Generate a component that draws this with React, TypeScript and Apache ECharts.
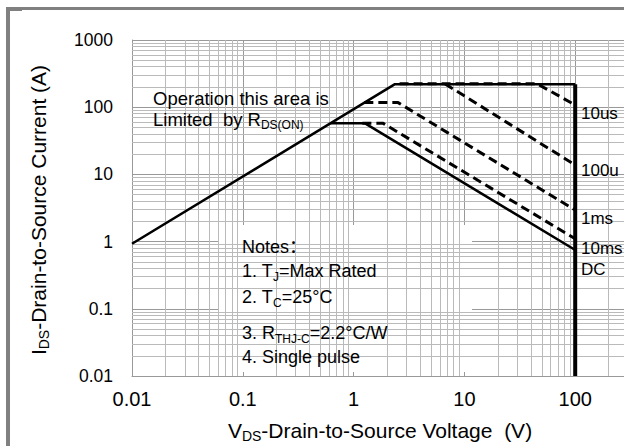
import React, { useEffect, useRef } from "react";
import * as echarts from "echarts";

// Axis tick labels (by decade exponent -2..2 / -2..3)
const xTickLabels = ["0.01", "0.1", "1", "10", "100"];
const yTickLabels = ["0.01", "0.1", "1", "10", "100", "1000"];
// Decades and minor steps for the log grid
const decades = [0.01, 0.1, 1, 10, 100];
const minorSteps = [2, 3, 4, 5, 6, 7, 8, 9];

// Curves (V, A)
const limitV = [0.01, 2.36, 100];
const limitI = [0.93, 220, 220];
const vertV = [100, 100];
const vertI = [220, 0.01];
const dcV = [0.615, 1.27, 100];
const dcI = [57.5, 57.5, 0.75];
const ms10V = [1.2, 1.85, 100];
const ms10I = [57.5, 57.5, 1.1];
const ms1V = [1.25, 2.52, 100];
const ms1I = [117, 117, 2.95];
const us100V = [6.7, 100];
const us100I = [222, 13.8];
const us10V = [2.6, 45, 100];
const us10I = [224, 224, 108];

const curveLabels = ["10us", "100u", "1ms", "10ms", "DC"];

const FONT = "'Liberation Sans', Arial, 'Noto Sans CJK SC', sans-serif";

const zip = (a: number[], b: number[]) => a.map((v, i) => [v, b[i]]);
const expOf = (v: number) => Math.round(Math.log10(v));

export default function App() {
  const ref = useRef<HTMLDivElement>(null);

  useEffect(() => {
    document.body.style.margin = "0";
    const chart = echarts.init(ref.current!, undefined, {
      renderer: "svg",
      width: 624,
      height: 446,
    });

    const minorX: any[] = [];
    const minorY: any[] = [];
    decades.forEach((d) =>
      minorSteps.forEach((s) => {
        minorX.push({ xAxis: +(d * s).toPrecision(6) });
        minorY.push({ yAxis: +(d * s).toPrecision(6) });
      })
    );

    const solid = (data: number[][], width: number) => ({
      type: "line",
      data,
      symbol: "none",
      silent: true,
      z: 5,
      lineStyle: { color: "#000", width, type: "solid" },
    });
    const dashed = (data: number[][]) => ({
      type: "line",
      data,
      symbol: "none",
      silent: true,
      z: 5,
      lineStyle: { color: "#000", width: 3, type: [9, 5] },
    });

    const sub = { fontSize: 12, lineHeight: 13, verticalAlign: "bottom", fontFamily: FONT, fill: "#000" };

    const txt = (x: number, y: number, text: string, fontSize: number, extra: any = {}) => ({
      type: "text",
      x,
      y,
      z: 10,
      silent: true,
      ...extra,
      style: {
        text,
        fontSize,
        fontFamily: FONT,
        fill: "#000",
        align: "left",
        verticalAlign: "middle",
        lineHeight: 24,
        rich: { s: { ...sub } },
        ...(extra.style || {}),
      },
    });

    const labelYs = [113, 170, 218, 248, 269];

    const option: any = {
      animation: false,
      backgroundColor: "#fff",
      grid: {
        left: 132,
        top: 40,
        right: -62,
        bottom: 70,
        outerBoundsMode: "none",
        containLabel: false,
      },
      xAxis: {
        type: "log",
        logBase: 10,
        min: 0.01,
        max: 1000,
        axisLine: { show: true, lineStyle: { color: "#999", width: 1 } },
        axisTick: { show: false },
        splitLine: { show: true, lineStyle: { color: "#999", width: 1 } },
        axisLabel: {
          fontSize: 20,
          color: "#000",
          fontFamily: FONT,
          margin: 13,
          formatter: (v: number) => xTickLabels[expOf(v) + 2] ?? "",
        },
      },
      yAxis: {
        type: "log",
        logBase: 10,
        min: 0.01,
        max: 1000,
        axisLine: { show: true, lineStyle: { color: "#999", width: 1 } },
        axisTick: { show: false },
        splitLine: { show: true, lineStyle: { color: "#999", width: 1 } },
        axisLabel: {
          fontSize: 17.5,
          color: "#000",
          fontFamily: FONT,
          margin: 19,
          formatter: (v: number) => yTickLabels[expOf(v) + 2] ?? "",
        },
      },
      series: [
        {
          type: "line",
          data: [[0.01, 0.01]],
          symbol: "none",
          silent: true,
          z: 1,
          lineStyle: { opacity: 0 },
          markLine: {
            silent: true,
            symbol: ["none", "none"],
            label: { show: false },
            emphasis: { disabled: true },
            lineStyle: { color: "#bababa", width: 1, type: "solid" },
            data: [...minorX, ...minorY],
          },
        },
        solid(zip(limitV, limitI), 2.5),
        solid(zip(vertV, vertI), 4),
        solid(zip(dcV, dcI), 2.5),
        dashed(zip(ms10V, ms10I)),
        dashed(zip(ms1V, ms1I)),
        dashed(zip(us100V, us100I)),
        dashed(zip(us10V, us10I)),
      ],
      graphic: [
        // frame
        { type: "rect", z: 20, silent: true, shape: { x: 6, y: 7, width: 4, height: 439 }, style: { fill: "#808080" } },
        { type: "rect", z: 20, silent: true, shape: { x: 6, y: 7, width: 618, height: 3 }, style: { fill: "#808080" } },
        { type: "rect", z: 20, silent: true, shape: { x: 6, y: 7, width: 16, height: 4 }, style: { fill: "#808080" } },
        // notes box
        { type: "rect", z: 3, silent: true, shape: { x: 219, y: 225, width: 253, height: 147 }, style: { fill: "#fff" } },
        txt(242, 247, "Notes：", 18),
        txt(242, 271, "1. T{s|J}=Max Rated", 18),
        txt(242, 297, "2. T{s|C}=25°C", 18),
        txt(242, 333, "3. R{s|THJ-C}=2.2°C/W", 18),
        txt(242, 357, "4. Single pulse", 18),
        // RDS(on) text
        txt(153, 98, "Operation this area is", 18.5),
        txt(153, 119, "Limited  by R{s|DS(ON)}", 18.5),
        // curve labels
        ...curveLabels.map((t, i) => txt(581, labelYs[i], t, 17)),
        // axis titles
        txt(380, 430, "V{s|DS}-Drain-to-Source Voltage  (V)", 21, {
          style: { align: "center", lineHeight: 26, rich: { s: { ...sub, fontSize: 14, lineHeight: 14 } } },
        }),
        txt(38, 210, "I{s|DS}-Drain-to-Source Current (A)", 21, {
          rotation: Math.PI / 2,
          style: { align: "center", lineHeight: 26, rich: { s: { ...sub, fontSize: 14, lineHeight: 14 } } },
        }),
      ],
    };

    chart.setOption(option);
    return () => chart.dispose();
  }, []);

  return <div ref={ref} style={{ width: 624, height: 446, overflow: "hidden" }} />;
}
